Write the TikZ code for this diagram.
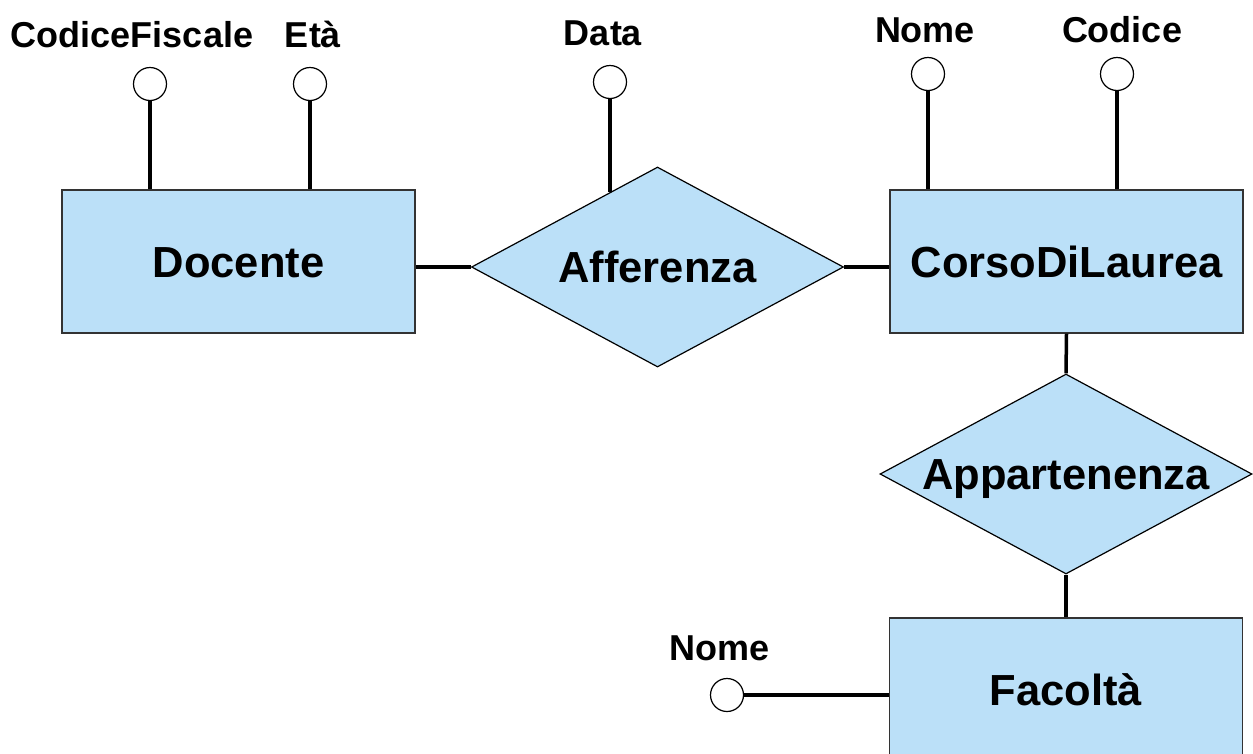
\documentclass[tikz,border=0pt]{standalone}
\usepackage{fontspec}
\setmainfont{Liberation Sans}
\usetikzlibrary{shapes.geometric,calc}
\definecolor{erblue}{RGB}{187,224,248}
\begin{document}
\begin{tikzpicture}[x=1pt,y=-1pt,
  entity/.style={draw=black!80,line width=1.2pt,fill=erblue,minimum width=353pt,minimum height=143pt,inner sep=0pt,
    font=\fontsize{43.5}{50}\selectfont\bfseries,text height=31pt,text depth=0pt},
  relation/.style={diamond,draw=black,line width=1.2pt,fill=erblue,minimum width=372pt,minimum height=200pt,inner sep=0pt},
  rlabel/.style={inner sep=0pt,font=\fontsize{43.5}{50}\selectfont\bfseries,text height=31pt,text depth=0pt},
  attr/.style={circle,draw=black,line width=1.2pt,fill=white,minimum size=33pt,inner sep=0pt},
  alabel/.style={inner sep=0pt,anchor=base,font=\fontsize{36}{42}\selectfont\bfseries},
  link/.style={line width=3.5pt,draw=black}]
\useasboundingbox (0,0) rectangle (1253,753);
\clip (0,0) rectangle (1253,753);
% entities
\node[entity] (doc) at (238.5,261.5) {Docente};
\node[entity] (cdl) at (1066.5,261.5) {CorsoDiLaurea};
\node[entity] (fac) at (1066,689.5) {Facoltà};
% relationships
\node[relation] (aff) at (657.5,267) {};
\node[rlabel] (afft) at (aff.center) {Afferenza};
\node[relation] (app) at (1066,474) {};
\node[rlabel] (appt) at (app.center) {Appartenenza};
% attributes
\node[attr] (cf) at (150,84) {};
\node[attr] (eta) at (310,84) {};
\node[attr] (data) at (610,82) {};
\node[attr] (nome) at (928,74) {};
\node[attr] (cod) at (1117,74) {};
\node[attr] (nomef) at (727,695) {};
\node[alabel] (cfl) at (132,47) {CodiceFiscale};
\node[alabel] (etal) at (313,47) {Età};
\node[alabel] (datal) at (603,45) {Data};
\node[alabel] (nomel) at (925,42) {Nome};
\node[alabel] (codl) at (1122,42) {Codice};
\node[alabel] (nomefl) at (720,660) {Nome};
% connectors
\coordinate (datafoot) at ($(aff.north)!0.258!(aff.west)$);
\draw[link] (cf.south) -- (cf.south |- doc.north);
\draw[link] (eta.south) -- (eta.south |- doc.north);
\draw[link] (data.south) -- (data.south |- datafoot);
\draw[link] (nome.south) -- (nome.south |- cdl.north);
\draw[link] (cod.south) -- (cod.south |- cdl.north);
\draw[link] (aff.west) -- (aff.west -| doc.east);
\draw[link] (aff.east) -- (aff.east -| cdl.west);
\draw[link] (cdl.south) -- (app.north);
\draw[link] (app.south) -- (fac.north);
\draw[link] (nomef.east) -- (nomef.east -| fac.west);
\end{tikzpicture}
\end{document}
